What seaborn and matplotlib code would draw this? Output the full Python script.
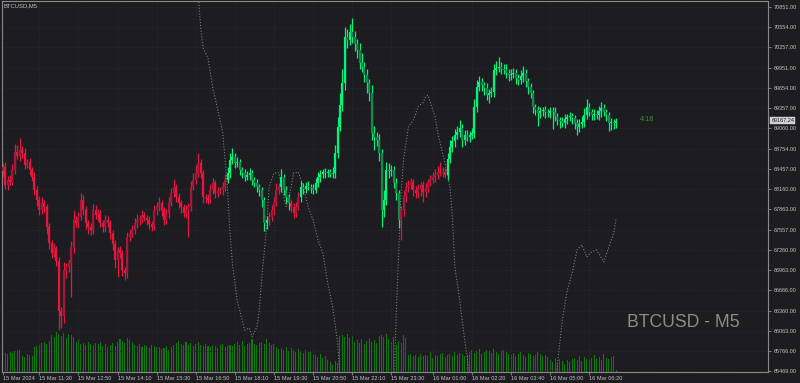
import numpy as np
import pandas as pd
import matplotlib
matplotlib.use("Agg")
import matplotlib.pyplot as plt
import matplotlib.transforms as mtransforms
import seaborn as sns

# ---------------- data ----------------
symbol_title = "BTCUSD,M5"
watermark = "BTCUSD - M5"
timer_text = "4:18"
last_price = 69167.24
first_open = 68420

closes = [
    68486, 68219, 68300, 68264, 68442, 68708, 68650, 68738, 68693, 68516, 68560, 68442,
    68338, 68150, 67997, 67849, 67950, 67894, 67598, 67361, 67213, 67280, 67100, 66350,
    66280, 66960, 67005, 67065, 67302, 67701, 67650, 67746, 67997, 67849, 67657, 67600,
    67553, 67849, 67780, 67805, 67657, 67598, 67700, 67657, 67509, 67350, 67109, 67250,
    67213, 66961, 66916, 67450, 67500, 67553, 67650, 67701, 67720, 67775, 67730, 67701,
    67640, 67598, 67849, 67900, 67953, 67850, 67701, 67800, 67953, 68100, 68190, 68042,
    67950, 67894, 67805, 67850, 67894, 68190, 68300, 68397, 68545, 68397, 68042, 68020,
    67997, 68150, 68249, 68101, 68130, 68145, 68190, 68300, 68397, 68590, 68634, 68545,
    68560, 68442, 68400, 68338, 68360, 68397, 68300, 68249, 68190, 68150, 67997, 67657,
    67700, 67746, 67850, 67953, 68145, 68190, 68338, 68145, 68042, 67950, 67894, 67805,
    67900, 68042, 68190, 68160, 68210, 68190, 68170, 68145, 68250, 68338, 68380, 68412,
    68390, 68412, 68380, 68397, 68693, 69078, 69400, 69730, 70411, 70367, 70480, 70411,
    70300, 70219, 70026, 69967, 69850, 69730, 69582, 68990, 68930, 68886, 68693, 67849,
    67997, 68442, 68420, 68442, 68249, 68101, 67701, 67849, 68050, 68190, 68220, 68264,
    68150, 68101, 68160, 68219, 68116, 68180, 68264, 68300, 68338, 68370, 68412, 68400,
    68412, 68367, 68600, 68782, 68870, 68960, 69000, 69063, 68886, 68960, 68930, 68960,
    68990, 69375, 69671, 69745, 69700, 69656, 69552, 69580, 69597, 69922, 69950, 69967,
    69940, 69922, 69880, 69848, 69860, 69878, 69800, 69774, 69830, 69878, 69760, 69671,
    69582, 69375, 69330, 69286, 69310, 69330, 69300, 69286, 69320, 69301, 69230, 69182,
    69160, 69137, 69200, 69226, 69240, 69211, 69130, 69078, 69120, 69152, 69260, 69375,
    69300, 69256, 69270, 69256, 69310, 69360, 69300, 69256, 69137, 69150, 69130, 69167,
]

wick_hi = [
    60, 80, 50, 70, 90, 120, 100, 180, 60, 70, 50, 60,
    40, 70, 50, 60, 90, 40, 50, 60, 50, 80, 40, 50,
    60, 120, 60, 50, 90, 150, 60, 80, 100, 70, 60, 40,
    50, 90, 80, 60, 50, 40, 70, 60, 50, 40, 60, 50,
    70, 40, 50, 80, 60, 70, 80, 90, 60, 70, 50, 40,
    60, 50, 80, 60, 90, 50, 40, 60, 90, 70, 120, 50,
    60, 50, 40, 70, 60, 90, 100, 120, 150, 60, 50, 40,
    60, 90, 70, 50, 60, 40, 70, 80, 90, 110, 130, 60,
    70, 50, 40, 60, 70, 80, 50, 40, 60, 50, 40, 50,
    60, 70, 80, 90, 100, 60, 120, 50, 60, 40, 50, 60,
    70, 80, 90, 60, 50, 70, 40, 60, 80, 70, 60, 50,
    60, 40, 50, 90, 120, 150, 180, 200, 150, 120, 130, 210,
    90, 80, 100, 150, 70, 90, 60, 120, 100, 80, 90, 60,
    150, 120, 100, 80, 60, 70, 50, 60, 90, 80, 70, 60,
    50, 60, 70, 50, 60, 70, 50, 60, 70, 80, 90, 150,
    70, 60, 90, 100, 80, 90, 100, 120, 60, 80, 70, 60,
    70, 120, 100, 90, 60, 50, 70, 60, 80, 90, 100, 150,
    80, 70, 90, 60, 70, 80, 60, 70, 90, 100, 60, 50,
    60, 50, 40, 60, 70, 50, 60, 40, 50, 60, 70, 50,
    40, 60, 70, 50, 60, 40, 50, 60, 70, 90, 100, 120,
    60, 50, 70, 60, 80, 90, 60, 50, 40, 60, 50, 40,
]

wick_lo = [
    80, 60, 70, 50, 40, 60, 50, 70, 80, 60, 50, 70,
    60, 80, 90, 70, 60, 80, 100, 90, 70, 60, 80, 280,
    180, 100, 120, 80, 500, 90, 60, 70, 50, 80, 90, 100,
    80, 60, 70, 90, 60, 80, 70, 60, 90, 100, 120, 250,
    80, 90, 100, 70, 60, 50, 60, 70, 80, 60, 50, 70,
    80, 60, 50, 70, 60, 90, 80, 60, 70, 50, 60, 80,
    70, 90, 60, 80, 400, 60, 50, 70, 60, 80, 90, 70,
    60, 50, 70, 80, 60, 50, 70, 60, 50, 70, 60, 80,
    60, 70, 80, 60, 50, 70, 80, 60, 70, 90, 100, 120,
    90, 80, 60, 70, 50, 60, 70, 80, 90, 100, 80, 70,
    60, 50, 70, 80, 60, 50, 70, 60, 50, 60, 70, 50,
    60, 50, 40, 60, 70, 80, 60, 90, 100, 120, 80, 90,
    100, 120, 90, 80, 100, 150, 120, 100, 200, 90, 120, 250,
    100, 80, 90, 70, 80, 100, 120, 300, 90, 80, 70, 60,
    90, 80, 70, 100, 150, 80, 70, 60, 50, 70, 60, 50,
    60, 50, 70, 60, 80, 90, 60, 70, 100, 80, 60, 70,
    60, 70, 80, 60, 90, 100, 80, 120, 60, 70, 80, 60,
    70, 60, 80, 90, 70, 60, 80, 70, 60, 80, 90, 100,
    80, 90, 70, 200, 80, 70, 90, 60, 80, 250, 70, 80,
    90, 60, 70, 80, 60, 90, 80, 120, 70, 60, 80, 70,
    60, 70, 80, 60, 70, 80, 60, 90, 120, 100, 80, 60,
]

volumes = [
    170, 190, 180, 200, 190, 210, 220, 220, 160, 150, 180, 170,
    160, 250, 260, 270, 290, 300, 280, 310, 370, 350, 400, 380,
    360, 390, 340, 380, 370, 350, 300, 330, 280, 290, 270, 300,
    280, 270, 290, 280, 300, 260, 280, 250, 270, 290, 260, 300,
    330, 310, 290, 340, 320, 300, 270, 260, 280, 250, 270, 260,
    240, 270, 260, 250, 250, 230, 240, 260, 220, 250, 270, 290,
    310, 280, 270, 300, 270, 290, 260, 280, 300, 270, 260, 280,
    260, 250, 270, 260, 240, 270, 280, 250, 260, 270, 260, 280,
    300, 270, 310, 260, 280, 290, 330, 280, 270, 290, 300, 280,
    330, 290, 270, 280, 250, 230, 240, 220, 250, 210, 240, 220,
    200, 230, 210, 190, 220, 200, 210, 180, 170, 150, 180, 140,
    160, 120, 100, 70, 110, 90, 360, 370, 350, 380, 340, 360,
    300, 320, 290, 330, 280, 310, 340, 300, 320, 290, 360, 370,
    350, 380, 330, 300, 350, 270, 310, 290, 370, 340, 170, 180,
    160, 170, 150, 180, 160, 170, 160, 200, 140, 170, 160, 180,
    190, 150, 170, 180, 160, 200, 170, 190, 180, 160, 170, 200,
    220, 190, 210, 230, 180, 200, 220, 210, 190, 230, 200, 180,
    210, 220, 200, 180, 170, 190, 160, 180, 200, 170, 150, 190,
    180, 160, 170, 200, 180, 160, 170, 150, 120, 100, 140, 90,
    130, 110, 80, 120, 100, 130, 140, 120, 160, 110, 150, 130,
    120, 140, 170, 130, 150, 120, 180, 140, 130, 150, 160, 20,
]

# trend colouring of the bars: start index of each segment and its direction
trend_starts = [0, 92, 109, 114, 118, 122, 163, 182]
trend_dirs = ["down", "up", "down", "up", "down", "up", "down", "up"]

# dotted indicator line (bar index, price level)
osc_idx = [80, 81, 82, 84, 86, 88, 90, 91, 92, 93, 94, 96, 98, 99, 101, 102, 104,
           105, 106, 108, 109, 111, 113, 115, 116, 118, 119, 121, 123, 125, 127,
           129, 131, 133, 135, 137, 138, 140, 159, 160, 161, 162, 163, 164, 166,
           168, 170, 172, 173, 174, 176, 177, 178, 180, 182, 183, 184, 185, 187,
           189, 191, 192, 226, 227, 229, 231, 233, 235, 237, 239, 241, 243, 246,
           248, 250, 251]
osc_val = [71050, 70560, 70250, 70100, 69650, 69330, 69000, 68590, 68150, 67510,
           67050, 66500, 66210, 66072, 66100, 65970, 66117, 66370, 66850, 67600,
           68190, 68397, 68400, 68040, 67900, 68190, 68397, 68410, 68190, 67890,
           67700, 67405, 67213, 66770, 66410, 65900, 65400, 64900, 64900, 65100,
           66300, 67200, 68100, 68600, 69080, 69180, 69380, 69440, 69520, 69550,
           69330, 69220, 68990, 68690, 68380, 68190, 67750, 67005, 66516, 65930,
           65420, 65100, 65100, 65580, 66220, 66660, 66916, 67257, 67331, 67153,
           67228, 67257, 67079, 67302, 67509, 67731]

price_ticks = [70851, 70554, 70257, 69951, 69654, 69357, 69060, 68754, 68457, 68160,
               67863, 67557, 67260, 66963, 66666, 66360, 66063, 65766, 65469]

time_tick_idx = [0, 15, 31, 47, 63, 79, 95, 111, 127, 143, 159, 176, 192, 208, 224, 240]
time_tick_labels = ["15 Mar 2024", "15 Mar 11:30", "15 Mar 12:50", "15 Mar 14:10",
                    "15 Mar 15:30", "15 Mar 16:50", "15 Mar 18:10", "15 Mar 19:30",
                    "15 Mar 20:50", "15 Mar 22:10", "15 Mar 23:30", "16 Mar 01:00",
                    "16 Mar 02:20", "16 Mar 03:40", "16 Mar 05:00", "16 Mar 06:20"]

# ---------------- style ----------------
BG = "#1c1c21"
FG = "#c4c4c4"
SPINE = "#8a8a8a"
GREEN_BRIGHT = "#00f57c"
GREEN_DARK = "#17884a"
RED_BRIGHT = "#e5173f"
RED_DARK = "#a3193c"
VOL_GREEN = "#0f780f"

sns.set_theme(style="dark", rc={
    "figure.facecolor": BG, "axes.facecolor": BG, "savefig.facecolor": BG,
    "axes.edgecolor": SPINE, "text.color": FG, "xtick.color": FG, "ytick.color": FG,
})
plt.rcParams["font.family"] = ["Liberation Sans", "DejaVu Sans"]

# ---------------- build frame ----------------
n = len(closes)
df = pd.DataFrame({"idx": np.arange(n), "close": closes,
                   "wick_hi": wick_hi, "wick_lo": wick_lo, "volume": volumes})
df["open"] = [first_open] + closes[:-1]
df["high"] = df[["open", "close"]].max(axis=1) + df["wick_hi"]
df["low"] = df[["open", "close"]].min(axis=1) - df["wick_lo"]

trend = []
for k in range(len(trend_starts)):
    end = trend_starts[k + 1] if k + 1 < len(trend_starts) else n
    trend += [trend_dirs[k]] * (end - trend_starts[k])
df["trend"] = trend

def body_color(row):
    bull = row["close"] >= row["open"]
    if row["trend"] == "up":
        return GREEN_BRIGHT if bull else GREEN_DARK
    return RED_BRIGHT if not bull else RED_DARK

df["wick_color"] = np.where(df["trend"] == "up", GREEN_BRIGHT, RED_BRIGHT)
df["body_color"] = df.apply(body_color, axis=1)

# ---------------- figure ----------------
W, H = 800, 383
fig = plt.figure(figsize=(W / 100, H / 100), dpi=100)
ax_left, ax_right, ax_top, ax_bottom = 2, 768, 1, 371.5
rect = [ax_left / W, (H - ax_bottom) / H, (ax_right - ax_left) / W, (ax_bottom - ax_top) / H]

axv = fig.add_axes(rect)   # volume layer (behind)
ax = fig.add_axes(rect)    # price layer
ax.patch.set_visible(False)

px_per_bar = 2.444
x0 = -(2.7 - ax_left) / px_per_bar
x1 = x0 + (ax_right - ax_left) / px_per_bar
ymin, ymax = 65457, 70944

# volume bars
axv.bar(df["idx"], df["volume"], width=0.42, color=VOL_GREEN, linewidth=0)
axv.set_xlim(x0, x1)
axv.set_ylim(0, (ax_bottom - ax_top) * 10)
axv.set_axis_off()

# grid
ax.set_xlim(x0, x1)
ax.set_ylim(ymin, ymax)
ax.set_xticks(time_tick_idx)
ax.set_yticks(price_ticks)
ax.grid(True, color="#2d2d34", linestyle=(0, (1, 2)), linewidth=0.6)

# dotted indicator line
sns.lineplot(x=osc_idx, y=osc_val, ax=ax, color="#7e7e7e", linewidth=0.8,
             sort=False, estimator=None, zorder=2)
for ln in ax.get_lines():
    ln.set_linestyle((0, (1, 1.6)))

# candles
ax.vlines(df["idx"], df["low"], df["high"], colors=df["wick_color"], linewidth=0.9, zorder=3)
ax.vlines(df["idx"], df["open"], df["close"], colors=df["body_color"], linewidth=1.6, zorder=4)

# axes cosmetics
for side in ["left", "right", "top", "bottom"]:
    ax.spines[side].set_visible(True)
    ax.spines[side].set_color(SPINE)
    ax.spines[side].set_linewidth(0.8)

ax.yaxis.tick_right()
ax.set_yticklabels([f"{v:.2f}" for v in price_ticks])
ax.set_xticklabels(time_tick_labels, ha="left")
ax.tick_params(axis="y", which="both", right=True, left=False, length=2.5, width=0.6,
               color=SPINE, labelsize=4.0, labelcolor=FG, pad=1.5)
ax.tick_params(axis="x", which="both", bottom=True, length=2.5, width=0.6,
               color=SPINE, labelsize=4.1, labelcolor=FG, pad=1.0)
for lab in ax.get_xticklabels():
    lab.set_horizontalalignment("left")
ax.set_xlabel("")
ax.set_ylabel("")

# texts
ax.text(0.0026, 0.9946, symbol_title, transform=ax.transAxes, ha="left", va="top",
        fontsize=4.2, color=FG)
ax.text((627 - ax_left) / (ax_right - ax_left), (ax_bottom - 327) / (ax_bottom - ax_top),
        watermark, transform=ax.transAxes, ha="left", va="baseline",
        fontsize=12.7, color="#8c8c8c")
ax.text((640 - ax_left) / (ax_right - ax_left), (ax_bottom - 119.5) / (ax_bottom - ax_top),
        timer_text, transform=ax.transAxes, ha="left", va="center",
        fontsize=5.3, color="#3d8d3d")

blend = mtransforms.blended_transform_factory(ax.transAxes, ax.transData)
ax.text(1.0045, last_price, f"{last_price:.2f}", transform=blend, ha="left", va="center",
        fontsize=4.0, color="#1c1c21", clip_on=False, zorder=10,
        bbox=dict(boxstyle="square,pad=0.18", fc="#d2d2d2", ec="#d2d2d2", lw=0.3))

fig.savefig("out.png", dpi=100, facecolor=BG)
